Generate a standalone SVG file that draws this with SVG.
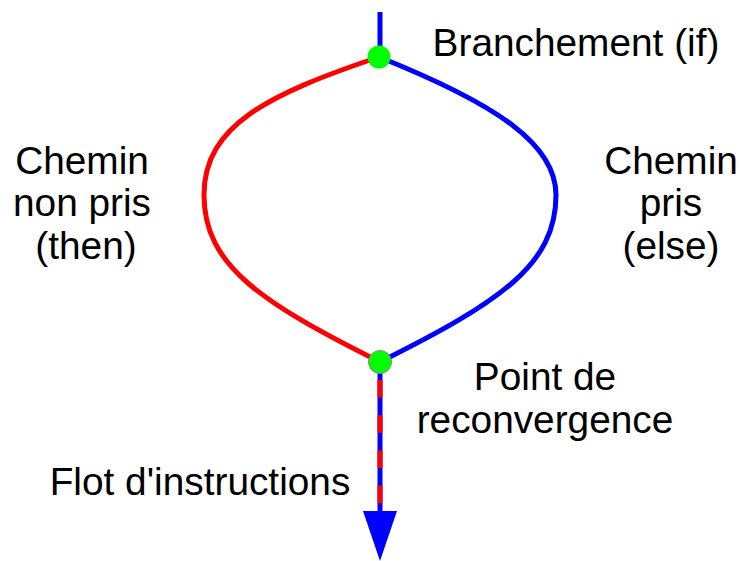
<svg xmlns="http://www.w3.org/2000/svg" width="740" height="561" viewBox="0 0 740 561">
<style>
text{font-family:"Liberation Sans",Arial,sans-serif;font-size:38.8px;fill:#000;text-anchor:middle}
.node{fill:#00ff00}
.path{fill:none;stroke-width:5}
</style>
<rect width="740" height="561" fill="#fff"/>
<g id="connectors">
<line x1="380" y1="12" x2="380" y2="57" stroke="#0000ff" stroke-width="5"/>
<path class="path" stroke="#ff0000" d="M379,57 C269,94 204,125 204,195 C204,265 260,302 380,362"/>
<path class="path" stroke="#0000ff" d="M379,57 C499,105 556,145 556,195 C556,265 500,302 380,362"/>
<line x1="380" y1="362" x2="380" y2="514" stroke="#0000ff" stroke-width="5"/>
<line x1="380" y1="380" x2="380" y2="512" stroke="#ff0000" stroke-width="5" stroke-dasharray="17.6 17.6"/>
<polygon points="363,511 397,511 380,561" fill="#0000ff"/>
</g>
<g id="branch">
<circle class="node" cx="379" cy="57" r="11.5"/>
<text x="576" y="56">Branchement (if)</text>
</g>
<g id="merge">
<circle class="node" cx="380" cy="362" r="11.5" stroke="#888" stroke-width="1"/>
<text x="545" y="390">Point de</text>
<text x="545" y="433">reconvergence</text>
</g>
<g id="then-label">
<text x="82" y="174">Chemin</text>
<text x="82" y="216">non pris</text>
<text x="86" y="259">(then)</text>
</g>
<g id="else-label">
<text x="671" y="174">Chemin</text>
<text x="671" y="216">pris</text>
<text x="671" y="259">(else)</text>
</g>
<g id="flow-label">
<text x="200" y="495">Flot d'instructions</text>
</g>
</svg>
